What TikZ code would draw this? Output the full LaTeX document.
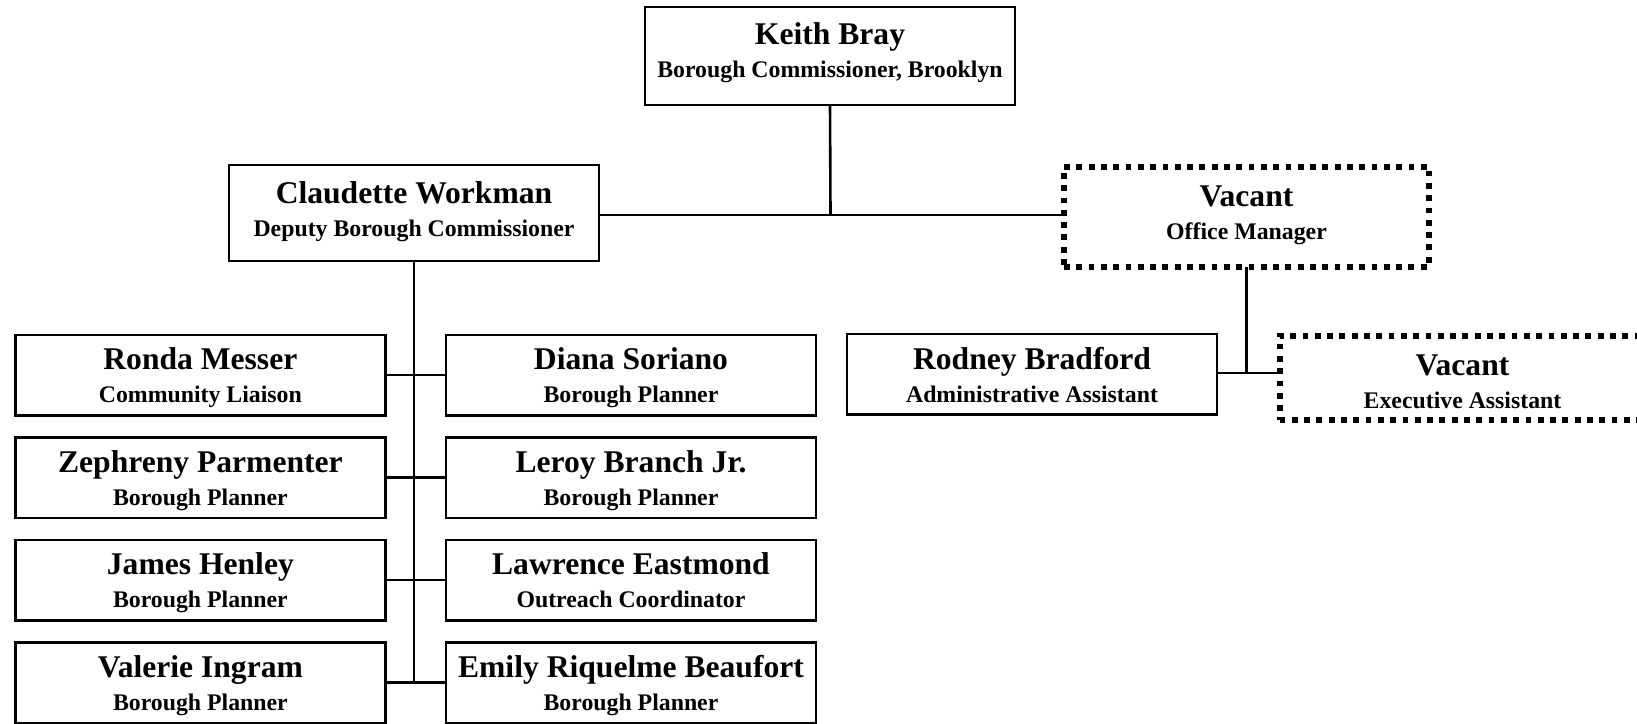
\documentclass[tikz,border=0pt]{standalone}
\usepackage{fontspec}
\setmainfont{Liberation Serif}
\usetikzlibrary{matrix}
\newcommand{\jobtitle}[1]{{\fontsize{11.9}{16.5}\selectfont #1}}

\begin{document}
\begin{tikzpicture}[x=0.5pt, y=-0.5pt,
  box/.style={draw, line width=1.3pt, inner sep=0pt, outer sep=0pt, minimum width=185pt, align=center, font=\fontsize{15.8}{16.5}\selectfont\bfseries},
  staff/.style={box, text height=34pt, text depth=6.25pt},
  vacant/.style={box, line width=3pt, dash pattern=on 2.9pt off 3.25pt},
  link/.style={line width=1.3pt}]
\useasboundingbox (0,0) rectangle (1637,723);
\node[box, text height=35pt, text depth=14pt, anchor=north west] (bray) at (645,7) {Keith Bray\\\jobtitle{Borough Commissioner, Brooklyn}};
\node[box, text height=35.5pt, text depth=12.5pt, anchor=north west] (workman) at (229,165) {Claudette Workman\\\jobtitle{Deputy Borough Commissioner}};
\node[vacant, minimum width=182.5pt, text height=36.5pt, text depth=13.5pt, anchor=north west] (om) at (1064,166.5) {Vacant\\\jobtitle{Office Manager}};
\node[staff, anchor=north west] (rodney) at (847,334) {Rodney Bradford\\\jobtitle{Administrative Assistant}};
\node[vacant, minimum width=183pt, text height=36.5pt, text depth=5.5pt, anchor=north west] (ea) at (1279.5,335.5) {Vacant\\\jobtitle{Executive Assistant}};
\matrix (m) [column sep=29pt, row sep=9.7pt, inner sep=0pt, anchor=north west] at (13.7,333.2) {
\node[staff](messer){Ronda Messer\\\jobtitle{Community Liaison}}; & \node[staff](soriano){Diana Soriano\\\jobtitle{Borough Planner}}; \\
\node[staff](parmenter){Zephreny Parmenter\\\jobtitle{Borough Planner}}; & \node[staff](branch){Leroy Branch Jr.\\\jobtitle{Borough Planner}}; \\
\node[staff](henley){James Henley\\\jobtitle{Borough Planner}}; & \node[staff](eastmond){Lawrence Eastmond\\\jobtitle{Outreach Coordinator}}; \\
\node[staff](ingram){Valerie Ingram\\\jobtitle{Borough Planner}}; & \node[staff](beaufort){Emily Riquelme Beaufort\\\jobtitle{Borough Planner}}; \\
};
\coordinate (split) at (830.5,215);
\coordinate (assist) at (1248,373);
\draw[link] (bray.south) -- (split);
\draw[link] (workman.east |- split) -- (om.west |- split);
\draw[link] (workman) -- (workman |- ingram.east);
\foreach \l/\r in {messer/soriano, parmenter/branch, henley/eastmond, ingram/beaufort}
  \draw[link] (\l) -- (\r);
\draw[link] (om) -- (om |- assist);
\draw[link] (rodney.east |- assist) -- (ea.west |- assist);
\end{tikzpicture}
\end{document}
